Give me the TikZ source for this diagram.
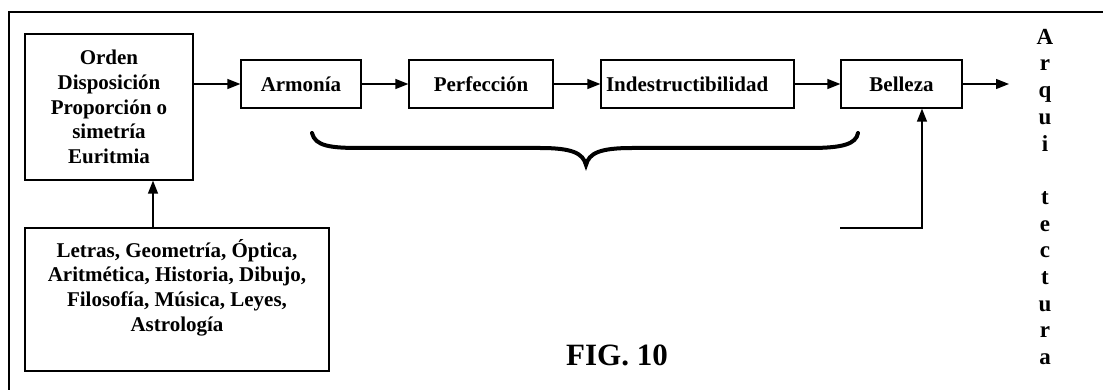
\documentclass[tikz,border=0pt]{standalone}
\usepackage{fontspec}
\setmainfont{Liberation Serif}
\usetikzlibrary{arrows.meta}
\newcommand{\boxfont}{\fontsize{21}{24.6}\selectfont\bfseries}
\tikzset{
  box/.style={draw, line width=1.3pt, inner sep=0pt, minimum height=48pt, font=\boxfont},
  arr/.style={line width=1.3pt, -{Triangle[length=13pt,width=10pt]}},
  txt/.style={inner sep=0pt, align=center, font=\boxfont}
}
\begin{document}
\begin{tikzpicture}[x=1pt,y=-1pt]
\useasboundingbox (0,0) rectangle (1103,390);
\clip (0,0) rectangle (1103,390);
% outer frame
\draw[line width=1.3pt] (9,12) rectangle (1200,500);

% boxes
\node[box, minimum width=168pt, minimum height=146pt, align=center] (orden) at (109,107)
  {Orden\\Disposición\\Proporción o\\simetría\\Euritmia};
\node[box, minimum width=304pt, minimum height=143pt] (ciencias) at (177,299.5) {};
\node[txt, anchor=north] (cienciastxt) at (177,239)
  {Letras, Geometría, Óptica,\\Aritmética, Historia, Dibujo,\\Filosofía, Música, Leyes,\\Astrología};
\node[box, minimum width=120pt] (armonia) at (301,84) {Armonía};
\node[box, minimum width=144pt] (perfeccion) at (481,84) {Perfección};
\node[box, text width=183pt, inner xsep=5pt, align=left] (indes) at (697.5,84) {Indestructibilidad};
\node[box, minimum width=121pt] (belleza) at (901.5,84) {Belleza};

% connectors
\coordinate (salida) at (1009,84);
\coordinate (entrada) at (840,228);
\draw[arr] (orden.east |- armonia.west) -- (armonia.west);
\draw[arr] (armonia.east) -- (perfeccion.west);
\draw[arr] (perfeccion.east) -- (indes.west);
\draw[arr] (indes.east) -- (belleza.west);
\draw[arr] (belleza.east) -- (salida);
\draw[arr] ([xshift=-24pt]ciencias.north) -- ([xshift=44pt]orden.south);
\draw[arr] (entrada) -| ([xshift=20.5pt]belleza.south);

% brace under the chain
\draw[line width=4pt, line cap=round]
  (312,133) .. controls (315,146) and (330,148) .. (360,148)
  -- (540,148) .. controls (572,148) and (583,153) .. (586,165)
  .. controls (589,153) and (600,148) .. (632,148)
  -- (810,148) .. controls (843,148) and (856,144) .. (858,133);

% vertical word
\node[inner sep=0pt, align=center, font=\fontsize{23}{26.7}\selectfont\bfseries] (arq) at (1045,197)
  {A\\r\\q\\u\\i\\\mbox{}\\t\\e\\c\\t\\u\\r\\a};

% caption
\node[inner sep=0pt, font=\fontsize{31}{36}\selectfont\bfseries] (fig) at (617,355) {FIG. 10};
\end{tikzpicture}
\end{document}
